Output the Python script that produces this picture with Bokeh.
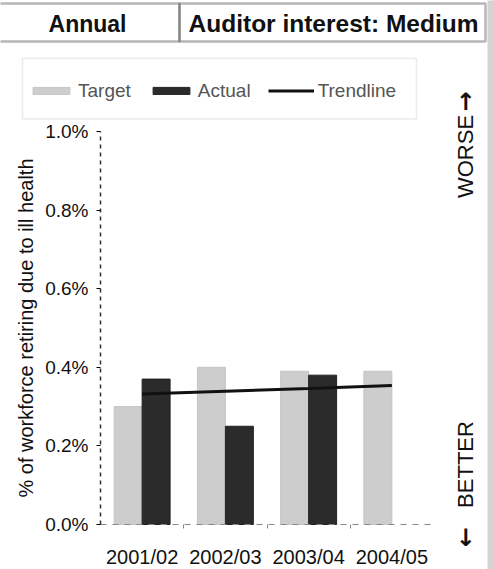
import math
import numpy as np
from bokeh.plotting import figure
from bokeh.models import (Range1d, Legend, LegendItem, PrintfTickFormatter, FixedTicker,
                          ColumnDataSource, Label, BoxAnnotation)
from bokeh.embed import file_html
from bokeh.resources import INLINE

nan = float("nan")

# ---- data ----
categories = ["2001/02", "2002/03", "2003/04", "2004/05"]
target = [0.30, 0.40, 0.39, 0.39]
actual = [0.37, 0.25, 0.38, nan]
trend = [0.332, 0.339, 0.346, 0.354]
y_ticks = [0.0, 0.2, 0.4, 0.6, 0.8, 1.0]
series_names = ["Target", "Actual", "Trendline"]
header_left = "Annual"
header_right = "Auditor interest: Medium"
y_title = "% of workforce retiring due to ill health"
worse_text = "WORSE"
better_text = "BETTER"

# ---- styles / layout ----
TARGET_FILL, TARGET_LINE = "#cdcdcd", "#c4c4c4"
ACTUAL_FILL, ACTUAL_LINE = "#2b2b2b", "#222222"
TREND_COLOR = "#111111"
FONT = "Liberation Sans"
PAPER = "#d4d4d4"
INK = "#111111"

W, H = 493, 569
AX_X, AX_Y = 100, 524      # page px where the axes cross (x=0, y=0)
PX_X = 83.25               # px per category
PX_Y = 393.0               # px per 1.0 %
BAR_W = 0.336

xc = np.arange(len(categories)) + 0.5
src = ColumnDataSource(dict(xc=xc, xt=xc - BAR_W / 2, xa=xc + BAR_W / 2,
                            target=target, actual=actual, trend=trend))

p = figure(x_range=Range1d(-AX_X / PX_X, (W - AX_X) / PX_X),
           y_range=Range1d(-(H - AX_Y) / PX_Y, AX_Y / PX_Y),
           width=W, height=H, output_backend="svg", toolbar_location=None,
           title=None, min_border=0)
p.outline_line_color = None
p.grid.grid_line_color = None
p.background_fill_color = "white"
p.border_fill_color = "white"


def sx(X):
    return X


def sy(Y):
    return H - Y


def box(l, r, t, b, **kw):
    p.add_layout(BoxAnnotation(left=sx(l), right=sx(r), top=sy(t), bottom=sy(b),
                               left_units="screen", right_units="screen",
                               top_units="screen", bottom_units="screen",
                               level="underlay", **kw))


# scanned paper edge, header boxes, legend frame
box(487, 500, -5, H + 5, fill_color=PAPER, fill_alpha=1, line_color=None)
box(-10, 179, 3, 41, fill_alpha=0, line_color=INK, line_width=2.5)
box(179, 485, 3, 41, fill_alpha=0, line_color=INK, line_width=2.5)
box(22, 416, 58, 118.5, fill_color="white", fill_alpha=1, line_color="#bdbdbd",
    line_width=1.5)

# bars and trendline
r_t = p.vbar(x="xt", top="target", width=BAR_W, source=src, fill_color=TARGET_FILL,
             line_color=TARGET_LINE, line_width=1)
r_a = p.vbar(x="xa", top="actual", width=BAR_W, source=src, fill_color=ACTUAL_FILL,
             line_color=ACTUAL_LINE, line_width=1)
r_l = p.line(x="xc", y="trend", source=src, line_color=TREND_COLOR, line_width=3)

# axes, pinned where the original axes cross
yax = p.yaxis[0]
yax.fixed_location = 0
yax.bounds = (y_ticks[0], y_ticks[-1])
yax.ticker = FixedTicker(ticks=y_ticks)
yax.formatter = PrintfTickFormatter(format="%.1f%%")
yax.axis_line_dash = "4 4"
yax.axis_line_color = "#333333"
yax.axis_line_width = 1.5
yax.major_tick_out = 4
yax.major_tick_in = 0
yax.minor_tick_line_color = None
yax.major_label_standoff = 8
yax.major_label_text_font = FONT
yax.major_label_text_font_size = "19px"
yax.major_label_text_color = INK
yax.axis_label = y_title
yax.axis_label_text_font = FONT
yax.axis_label_text_font_style = "normal"
yax.axis_label_text_font_size = "20px"
yax.axis_label_text_color = INK
yax.axis_label_standoff = 5

xax = p.xaxis[0]
xax.fixed_location = 0
xax.bounds = (0, len(categories))
xax.ticker = FixedTicker(ticks=list(xc), minor_ticks=list(range(1, len(categories))))
xax.major_label_overrides = {float(x): c for x, c in zip(xc, categories)}
xax.axis_line_dash = "6 6"
xax.axis_line_color = "#888888"
xax.major_tick_line_color = None
xax.minor_tick_out = 4
xax.minor_tick_in = 0
xax.minor_tick_line_color = "#888888"
xax.major_label_standoff = 15
xax.major_label_text_font = FONT
xax.major_label_text_font_size = "20px"
xax.major_label_text_color = INK

# header texts
p.add_layout(Label(x=sx(87), y=sy(23), x_units="screen", y_units="screen",
                   text=header_left, text_align="center", text_baseline="middle",
                   text_font=FONT, text_font_style="bold", text_font_size="23px",
                   text_color=INK))
p.add_layout(Label(x=sx(333), y=sy(23), x_units="screen", y_units="screen",
                   text=header_right, text_align="center", text_baseline="middle",
                   text_font=FONT, text_font_style="bold", text_font_size="24.5px",
                   text_color=INK))

# legend
legend = Legend(items=[LegendItem(label=series_names[0], renderers=[r_t]),
                       LegendItem(label=series_names[1], renderers=[r_a]),
                       LegendItem(label=series_names[2], renderers=[r_l])],
                orientation="horizontal", location=(28, sy(101.5)),
                border_line_color=None, background_fill_alpha=0, padding=5,
                spacing=17, label_standoff=4, glyph_width=46, glyph_height=9,
                margin=0, label_text_font=FONT, label_text_font_size="19px",
                label_text_color="#555555")
p.add_layout(legend, "center")

# right-hand direction labels
for txt, yy in [(worse_text, 156), (better_text, 464)]:
    p.add_layout(Label(x=sx(465), y=sy(yy), x_units="screen", y_units="screen",
                       text=txt, angle=math.pi / 2, text_align="center",
                       text_baseline="middle", text_font=FONT,
                       text_font_size="22px", text_color=INK))
for txt, yy in [("↑", 101), ("↓", 537)]:
    p.add_layout(Label(x=sx(465), y=sy(yy), x_units="screen", y_units="screen",
                       text=txt, text_align="center", text_baseline="middle",
                       text_font="DejaVu Sans", text_font_style="bold",
                       text_font_size="24px", text_color=INK))

open("out.html", "w").write(file_html(p, INLINE))
